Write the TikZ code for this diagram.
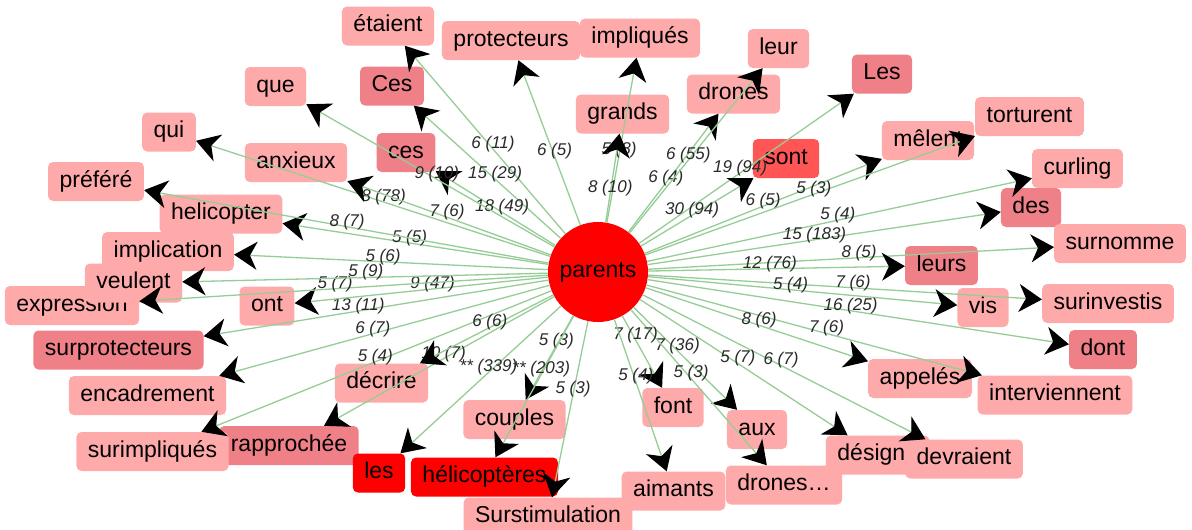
\documentclass[tikz,border=0pt]{standalone}
\usepackage{fontspec}
\setmainfont{Liberation Sans}
\usetikzlibrary{arrows.meta}
\definecolor{wordfill}{HTML}{FFAAAA}
\definecolor{wordfillB}{HTML}{F08088}
\definecolor{wordfillC}{HTML}{FF5555}
\definecolor{hubred}{HTML}{FF0000}
\definecolor{linkgreen}{RGB}{150,205,150}
\definecolor{labelgray}{HTML}{2A2A2A}

\begin{document}
\begin{tikzpicture}[x=1pt,y=-1pt,
  word/.style={rectangle, rounded corners=5pt, fill=wordfill, inner xsep=11.5pt, inner ysep=0pt,
    minimum height=39pt, text height=16.5pt, text depth=5pt, font=\fontsize{23}{25}\selectfont},
  wordB/.style={word, fill=wordfillB},
  wordC/.style={word, fill=wordfillC},
  wordR/.style={word, fill=hubred},
  hub/.style={circle, fill=hubred, minimum size=100pt, inner sep=0pt, font=\fontsize{23}{25}\selectfont},
  link/.style={draw=linkgreen, line width=1.3pt, -{Stealth[length=23pt,width=28pt,inset=7pt,black]}},
  lab/.style={font=\fontsize{17}{19}\selectfont\itshape, text=labelgray, inner sep=0pt, yshift=5pt}
]
\useasboundingbox[fill=white] (0,0) rectangle (1192,530);

% central word
\node[hub] (parents) at (598,272) {parents};

% surrounding words
\node[word]  (etaient)        at (388,26)     {étaient};
\node[word]  (que)            at (275.5,86.5) {que};
\node[wordB] (CesU)           at (392,86)     {Ces};
\node[word]  (qui)            at (169,132)    {qui};
\node[word]  (anxieux)        at (296,162.5)  {anxieux};
\node[word]  (prefere)        at (96,181.5)   {préféré};
\node[word]  (protecteurs)    at (511,40.5)   {protecteurs};
\node[word]  (impliques)      at (640,38)     {impliqués};
\node[word]  (grands)         at (622.5,114)  {grands};
\node[word]  (drones)         at (733.5,94)   {drones};
\node[word]  (leur)           at (778.5,48.5) {leur};
\node[wordC] (sont)           at (786,158.5)  {sont};
\node[wordB] (LesU)           at (882,74)     {Les};
\node[word]  (torturent)      at (1029.5,116.5) {torturent};
\node[word]  (melent)         at (928,140.5)  {mêlent};
\node[word]  (curling)        at (1077.5,168.5) {curling};
\node[word]  (helicopter)     at (221,214)    {helicopter};
\node[word]  (expression)     at (72,305.5)   {expression};
\node[word]  (veulent)        at (133.5,283)  {veulent};
\node[word]  (implication)    at (168,251.5)  {implication};
\node[word]  (ont)            at (267,306)    {ont};
\node[wordB] (surprotecteurs) at (118.5,350)  {surprotecteurs};
\node[wordB] (des)            at (1031,207.5) {des};
\node[word]  (surnomme)       at (1120,243.5) {surnomme};
\node[wordB] (leurs)          at (941.5,265.5) {leurs};
\node[word]  (vis)            at (983,307.5)  {vis};
\node[word]  (surinvestis)    at (1108,303.5) {surinvestis};
\node[wordB] (dont)           at (1103,349.5) {dont};
\node[word]  (encadrement)    at (147.5,395.5) {encadrement};
\node[wordB] (rapprochee)     at (289,445.5)  {rapprochée};
\node[word]  (surimpliques)   at (152.5,451.5) {surimpliqués};
\node[word]  (decrire)        at (381.5,383)  {décrire};
\node[wordR] (lesL)           at (379,473)    {les};
\node[word]  (couples)        at (514.5,419.5) {couples};
\node[word]  (surstimulation) at (548,517)    {Surstimulation};
\node[wordR] (helicopteres)   at (484.5,477)  {hélicoptères};
\node[word]  (font)           at (673,407.5)  {font};
\node[word]  (aux)            at (757,429.5)  {aux};
\node[word]  (aimants)        at (673.5,491)  {aimants};
\node[word]  (designe)        at (877.7,455)  {désigne};
\node[word]  (dronesB)        at (784,485)    {drones…};
\node[word]  (devraient)      at (964,459)    {devraient};
\node[word]  (appeles)        at (920,378.5)  {appelés};
\node[word]  (interviennent)  at (1055,395)   {interviennent};
\node[wordB] (cesL)           at (406,152.5)  {ces};

% links from the central word, each with its count label
\foreach \n/\t in {
  etaient/{6 (11)}, CesU/{15 (29)}, protecteurs/{6 (5)}, impliques/{5 (8)},
  grands/{8 (10)}, drones/{6 (4)}, leur/{6 (55)}, LesU/{19 (94)}, sont/{30 (94)},
  melent/{6 (5)}, torturent/{5 (3)}, curling/{5 (4)}, des/{15 (183)},
  surnomme/{8 (5)}, leurs/{12 (76)}, surinvestis/{7 (6)}, vis/{5 (4)},
  dont/{16 (25)}, interviennent/{7 (6)}, appeles/{8 (6)}, devraient/{6 (7)},
  designe/{5 (7)}, aux/{7 (36)}, dronesB/{5 (3)}, font/{7 (17)}, aimants/{5 (4)},
  surstimulation/{5 (3)}, couples/{5 (3)}, helicopteres/{** (203)}, lesL/{** (339)},
  rapprochee/{10 (7)}, surimpliques/{5 (4)}, decrire/{6 (6)}, encadrement/{6 (7)},
  surprotecteurs/{13 (11)}, ont/{9 (47)}, expression/{5 (7)}, veulent/{5 (9)},
  implication/{5 (6)}, helicopter/{5 (5)}, prefere/{8 (7)}, qui/{8 (78)},
  anxieux/{7 (6)}, cesL/{18 (49)}, que/{9 (10)}}
{
  \draw[link] (parents) -- (\n);
  \path (parents.center) -- node[lab] (lab-\n) {\t} (\n.center);
}
\end{tikzpicture}
\end{document}
